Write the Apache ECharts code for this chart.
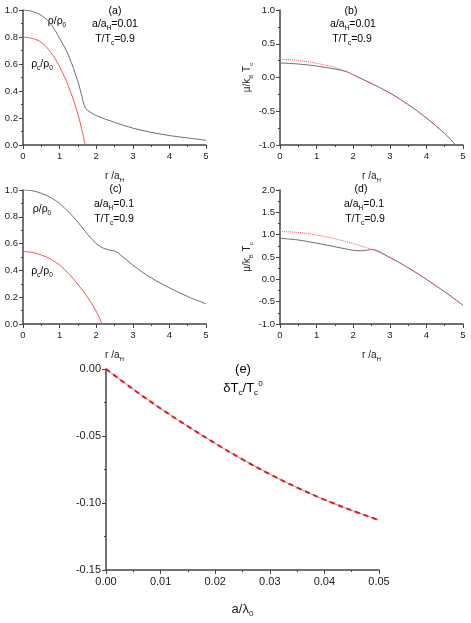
<!DOCTYPE html>
<html>
<head>
<meta charset="utf-8">
<script src="https://cdn.jsdelivr.net/npm/echarts@6/dist/echarts.min.js"></script>
<style>
html, body { margin: 0; padding: 0; background: #fff; }
#chart { width: 471px; height: 623px; }
</style>
</head>
<body>
<div id="chart"></div>
<script>
// panel (a): a/aH = 0.01
const rA = [0, 0.25, 0.5, 0.75, 1, 1.25, 1.5, 1.6, 1.7, 1.8, 2, 2.5, 3, 3.5, 4, 4.5, 5];
const rhoA = [1.0, 0.99, 0.96, 0.9, 0.79, 0.66, 0.47, 0.37, 0.275, 0.25, 0.218, 0.168, 0.125, 0.094, 0.07, 0.052, 0.035];
const rcA = [0, 0.25, 0.5, 0.75, 1, 1.25, 1.5, 1.6, 1.7];
const rhoCA = [0.8, 0.79, 0.76, 0.69, 0.58, 0.43, 0.23, 0.12, 0];

// panel (b)
const rB = [0, 0.5, 1, 1.5, 1.8, 2, 2.5, 3, 3.5, 4, 4.5, 4.8];
const muB = [0.215, 0.2, 0.17, 0.125, 0.09, 0.04, -0.09, -0.23, -0.4, -0.6, -0.83, -1.0];
const muCB = [0.27, 0.255, 0.21, 0.15, 0.09, 0.04, -0.09, -0.23, -0.4, -0.6, -0.83, -1.0];

// panel (c): a/aH = 0.1
const rC = [0, 0.25, 0.5, 0.75, 1, 1.25, 1.5, 1.75, 2, 2.2, 2.4, 2.5, 2.6, 3, 3.5, 4, 4.5, 5];
const rhoC = [1.0, 0.995, 0.975, 0.945, 0.9, 0.835, 0.76, 0.675, 0.6, 0.565, 0.55, 0.545, 0.53, 0.44, 0.345, 0.27, 0.205, 0.15];
const rcC = [0, 0.25, 0.5, 0.75, 1, 1.25, 1.5, 1.75, 2, 2.16];
const rhoCC = [0.54, 0.535, 0.515, 0.485, 0.44, 0.375, 0.295, 0.205, 0.095, 0];

// panel (d)
const rD = [0, 0.5, 1, 1.5, 2, 2.2, 2.4, 2.5, 3, 3.5, 4, 4.5, 5];
const muD = [0.92, 0.88, 0.81, 0.73, 0.65, 0.64, 0.655, 0.67, 0.49, 0.26, 0.0, -0.28, -0.58];
const muCD = [1.07, 1.05, 0.99, 0.91, 0.8, 0.75, 0.7, 0.67, 0.49, 0.26, 0.0, -0.28, -0.58];

// panel (e)
const aE = [0, 0.005, 0.01, 0.015, 0.02, 0.025, 0.03, 0.035, 0.04, 0.045, 0.05];
const dTE = [0, -0.0152, -0.0295, -0.0428, -0.0555, -0.0675, -0.0785, -0.0885, -0.0975, -0.1055, -0.1128];

const FONT = '"Liberation Sans", Arial, sans-serif';
const INK = '#222';
const AXIS = '#444';
const GRAY = '#6e6e6e';
const RED = '#ff5050';

const pts = (xs, ys) => xs.map((x, i) => [x, ys[i]]);

// rich styles for sub/superscripts
function rich(size, color) {
	const small = Math.round(size * 0.62 * 10) / 10;
	return {
		n: { fontSize: size, fontFamily: FONT, color: color, lineHeight: size + 4 },
		s: { fontSize: small, fontFamily: FONT, color: color, lineHeight: small, verticalAlign: 'bottom' },
		p: { fontSize: small, fontFamily: FONT, color: color, lineHeight: small, verticalAlign: 'top' }
	};
}

function label(x, y, text, size, color) {
	return {
		type: 'text', x: x, y: y,
		style: { text: text, rich: rich(size, color || INK), align: 'center', verticalAlign: 'middle' }
	};
}

function axisBase(min, max, interval, dec, fs) {
	return {
		min: min, max: max, interval: interval,
		axisLine: { show: true, onZero: false, lineStyle: { color: AXIS, width: 1.5 } },
		axisTick: { show: true, length: 4, lineStyle: { color: AXIS, width: 1 } },
		minorTick: { show: true, splitNumber: 2, length: 2, lineStyle: { color: AXIS, width: 1 } },
		splitLine: { show: false },
		axisLabel: {
			color: INK, fontFamily: FONT, fontSize: fs,
			formatter: v => v.toFixed(dec)
		}
	};
}

const rName = '{n|r /a}{s|H}';
const muName = '{n|μ/k}{s|B}{n| T}{s|c}';

function xAx(gi, min, max, iv, dec, fs, name, gap, nfs) {
	const a = axisBase(min, max, iv, dec, fs);
	a.type = 'value';
	a.gridIndex = gi;
	a.axisLabel.margin = 6;
	a.name = name;
	a.nameLocation = 'middle';
	a.nameGap = gap;
	a.nameTextStyle = { rich: rich(nfs, INK) };
	return a;
}

function yAx(gi, min, max, iv, dec, fs, name) {
	const a = axisBase(min, max, iv, dec, fs);
	a.type = 'value';
	a.gridIndex = gi;
	a.axisLabel.margin = 5;
	if (name) {
		a.name = name;
		a.nameLocation = 'middle';
		a.nameRotate = 90;
		a.nameGap = 24;
		a.nameTextStyle = { rich: rich(10, INK) };
	}
	return a;
}

function line(xi, data, color, width, type) {
	return {
		type: 'line', xAxisIndex: xi, yAxisIndex: xi,
		data: data, symbol: 'none', smooth: 0.35,
		lineStyle: { color: color, width: width, type: type || 'solid' },
		z: type ? 3 : 2
	};
}

const chart = echarts.init(document.getElementById('chart'), null, { renderer: 'canvas' });

chart.setOption({
	animation: false,
	backgroundColor: '#fff',
	grid: [
		{ left: 23, top: 10, width: 183, height: 135 },
		{ left: 280, top: 10, width: 183, height: 135 },
		{ left: 23, top: 190, width: 183, height: 134 },
		{ left: 280, top: 190, width: 183, height: 134 },
		{ left: 106, top: 369, width: 273, height: 201 }
	],
	xAxis: [
		xAx(0, 0, 5, 1, 0, 9.5, rName, 24, 10),
		xAx(1, 0, 5, 1, 0, 9.5, rName, 24, 10),
		xAx(2, 0, 5, 1, 0, 9.5, rName, 24, 10),
		xAx(3, 0, 5, 1, 0, 9.5, rName, 24, 10),
		xAx(4, 0, 0.05, 0.01, 2, 11, '{n|a/λ}{s|0}', 31, 13)
	],
	yAxis: [
		yAx(0, 0, 1, 0.2, 1, 9.5),
		yAx(1, -1, 1, 0.5, 1, 9.5, muName),
		yAx(2, 0, 1, 0.2, 1, 9.5),
		yAx(3, -1, 2, 0.5, 1, 9.5, muName),
		yAx(4, -0.15, 0, 0.05, 2, 11)
	],
	series: [
		line(0, pts(rA, rhoA), GRAY, 1),
		line(0, pts(rcA, rhoCA), RED, 1),
		line(1, pts(rB, muB), GRAY, 1),
		line(1, pts(rB, muCB), RED, 1, 'dotted'),
		line(2, pts(rC, rhoC), GRAY, 1),
		line(2, pts(rcC, rhoCC), RED, 1),
		line(3, pts(rD, muD), GRAY, 1),
		line(3, pts(rD, muCD), RED, 1, 'dotted'),
		line(4, pts(aE, dTE), '#999', 1),
		line(4, pts(aE, dTE), '#e8141a', 2, [5, 4])
	],
	graphic: [
		label(115, 11.5, '{n|(a)}', 10.5),
		label(115, 24, '{n|a/a}{s|H}{n|=0.01}', 10.5),
		label(115, 39.5, '{n|T/T}{s|c}{n|=0.9}', 10.5),
		label(57, 21.5, '{n|ρ/ρ}{s|0}', 10.5),
		label(42, 64.5, '{n|ρ}{s|c}{n|/ρ}{s|0}', 10.5, RED),

		label(351, 11.5, '{n|(b)}', 10.5),
		label(353, 24, '{n|a/a}{s|H}{n|=0.01}', 10.5),
		label(352, 39.5, '{n|T/T}{s|c}{n|=0.9}', 10.5),

		label(115.5, 189.5, '{n|(c)}', 10.5),
		label(114, 204, '{n|a/a}{s|H}{n|=0.1}', 10.5),
		label(114, 219, '{n|T/T}{s|c}{n|=0.9}', 10.5),
		label(42, 209.5, '{n|ρ/ρ}{s|0}', 10.5),
		label(42, 271.5, '{n|ρ}{s|c}{n|/ρ}{s|0}', 10.5, RED),

		label(361, 189.5, '{n|(d)}', 10.5),
		label(364, 204, '{n|a/a}{s|H}{n|=0.1}', 10.5),
		label(365, 219, '{n|T/T}{s|c}{n|=0.9}', 10.5),

		label(243, 369, '{n|(e)}', 13),
		label(243, 388, '{n|δT}{s|c}{n|/T}{s|c}{p|0}', 13)
	]
});
</script>
</body>
</html>
